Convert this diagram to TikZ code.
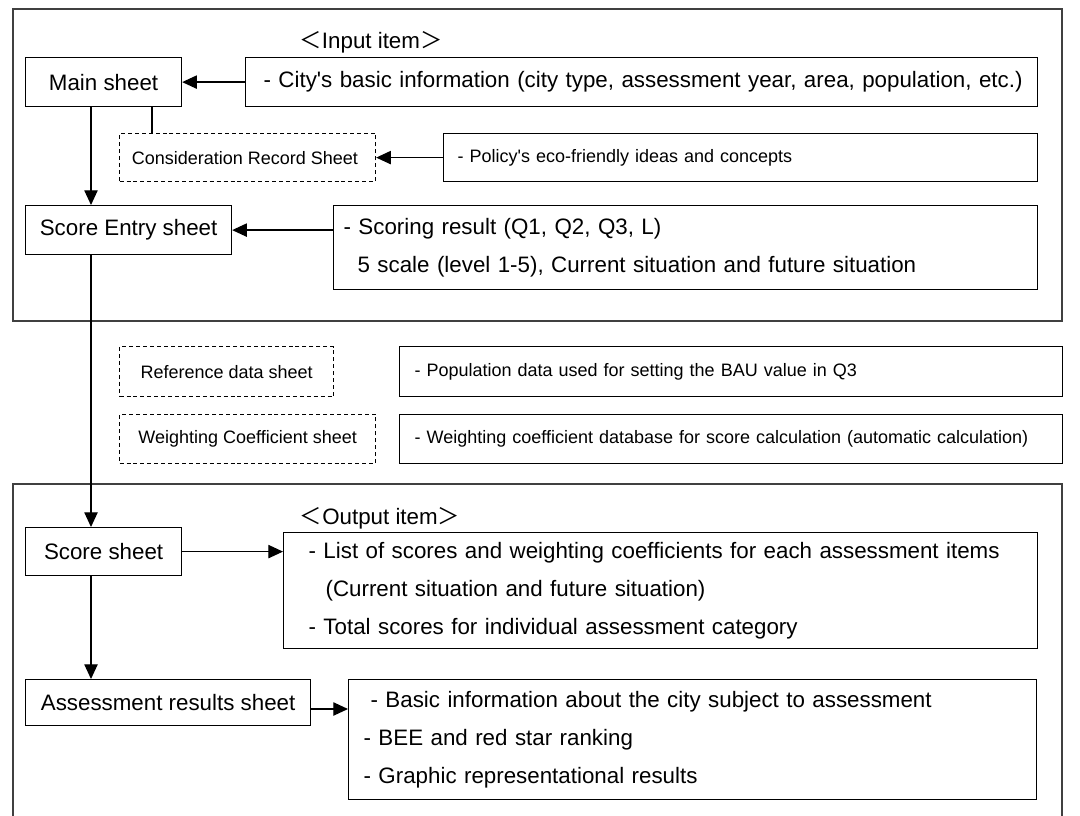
\documentclass[tikz,border=0pt]{standalone}
\usepackage{fontspec}
\setmainfont{Liberation Sans}
\newfontfamily\cjk{Noto Sans CJK JP}
\usetikzlibrary{arrows.meta}
\newcommand\bigf{\fontsize{16.75}{28.5}\selectfont}
\newcommand\smallf{\fontsize{13.5}{16}\selectfont}
\newcommand\q{\textquotesingle}
\begin{document}
\begin{tikzpicture}[x=0.75pt,y=-0.75pt,
  bx/.style={draw, line width=0.9pt, inner sep=0pt, anchor=north west, font=\bigf},
  dbx/.style={bx, dash pattern=on 3pt off 2.2pt, font=\smallf},
  lbx/.style={bx, align=left},
  frame/.style={draw=black!75, line width=1pt},
  arr/.style={line width=0.9pt, -{Triangle[length=11pt,width=10pt]}},
  ln/.style={line width=0.9pt}]
\useasboundingbox (0,0) rectangle (1080,816);
\clip (0,0) rectangle (1080,816);
\fill[white] (0,0) rectangle (1080,816);
% frames
\draw[frame] (13,9) rectangle (1062,321);
\draw[frame] (13,484) rectangle (1062,840);
% headings
\node[font=\bigf] (inh) at (371,42) {{\cjk ＜}Input item{\cjk ＞}};
\node[font=\bigf] (outh) at (380,518) {{\cjk ＜}Output item{\cjk ＞}};
% input part
\node[bx, minimum width=117pt, minimum height=36.75pt] (ms) at (25,57) {Main sheet};
\node[lbx, minimum width=594pt, minimum height=36.75pt, inner xsep=13.5pt, text width=567pt] (city) at (245,57)
  {\mbox{- City\q s basic information (city type, assessment year, area, population, etc.)}};
\node[dbx, minimum width=192pt, minimum height=36pt] (crs) at (119,133) {Consideration Record Sheet\hspace*{4pt}};
\node[lbx, font=\smallf, minimum width=445.5pt, minimum height=36pt, inner xsep=10.5pt, text width=424.5pt] (pol) at (443,133)
  {\mbox{- Policy\q s eco-friendly ideas and concepts}};
\node[bx, minimum width=154.5pt, minimum height=36.75pt] (se) at (25,205) {Score Entry sheet};
\node[lbx, minimum width=528pt, minimum height=63pt, inner xsep=7.5pt, text width=513pt] (sr) at (333,205)
  {\mbox{- Scoring result (Q1, Q2, Q3, L)}\\\mbox{\hspace*{10.5pt}5 scale (level 1-5), Current situation and future situation}};
% reference part
\node[dbx, minimum width=160.5pt, minimum height=37.5pt] (rds) at (119,346) {Reference data sheet};
\node[lbx, font=\smallf, minimum width=497.25pt, minimum height=37.5pt, inner xsep=11.25pt, text width=474.75pt] (pop) at (399,346)
  {\mbox{- Population data used for setting the BAU value in Q3}};
\node[dbx, minimum width=192pt, minimum height=36.75pt] (wcs) at (119,414) {Weighting Coefficient sheet};
\node[lbx, font=\smallf, minimum width=497.25pt, minimum height=36.75pt, inner xsep=11.25pt, text width=474.75pt] (wdb) at (399,414)
  {\mbox{- Weighting coefficient database for score calculation (automatic calculation)}};
% output part
\node[bx, minimum width=117pt, minimum height=36pt] (ss) at (25,527) {Score sheet};
\node[lbx, minimum width=565.5pt, minimum height=87pt, inner xsep=18.75pt, text width=528pt] (lst) at (283,532)
  {\mbox{- List of scores and weighting coefficients for each assessment items}\\
   \mbox{\hspace*{12.75pt}(Current situation and future situation)}\\
   \mbox{- Total scores for individual assessment category}};
\node[bx, minimum width=213.75pt, minimum height=34.5pt] (ar) at (25,679) {Assessment results sheet};
\node[lbx, minimum width=516pt, minimum height=90pt, inner xsep=11.25pt, text width=493.5pt] (bi) at (348,679)
  {\mbox{\hspace*{5.25pt}- Basic information about the city subject to assessment}\\
   \mbox{- BEE and red star ranking}\\
   \mbox{- Graphic representational results}};
% connectors
\coordinate (colx) at (91,0);
\coordinate (crx) at (152,0);
\coordinate (ary) at (0,709);
\draw[arr] (city.west) -- (ms.east);
\draw[ln] (ms.south -| crx) -- (crs.north -| crx);
\draw[arr] (pol.west) -- (crs.east);
\draw[arr] (ms.south -| colx) -- (se.north -| colx);
\draw[arr] (sr.west |- se.east) -- (se.east);
\draw[arr] (se.south -| colx) -- (ss.north -| colx);
\draw[arr] (ss.east) -- (ss.east -| lst.west);
\draw[arr] (ss.south -| colx) -- (ar.north -| colx);
\draw[arr] (ar.east |- ary) -- (bi.west |- ary);
\end{tikzpicture}
\end{document}
